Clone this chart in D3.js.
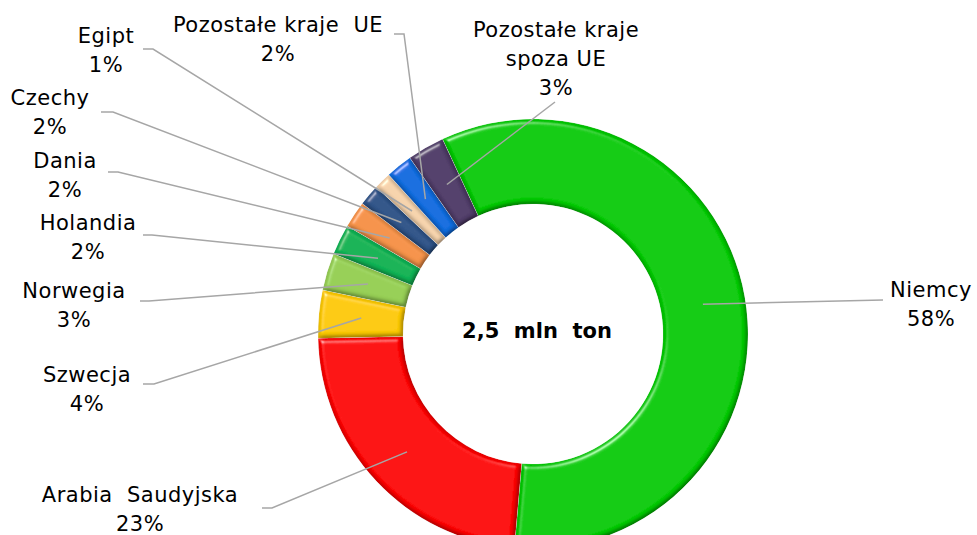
<!DOCTYPE html>
<html>
<head>
<meta charset="utf-8">
<script src="https://cdn.jsdelivr.net/npm/d3@7"></script>
<style>
  html, body { margin: 0; padding: 0; background: #fff; }
  svg text { font-family: "DejaVu Sans", Verdana, sans-serif; }
</style>
</head>
<body>
<div id="chart"></div>
<script>
// data
const countries = ["Niemcy", "Arabia  Saudyjska", "Szwecja", "Norwegia", "Holandia",
  "Dania", "Czechy", "Egipt", "Pozostałe kraje  UE", "Pozostałe kraje|spoza UE"];
const shares = [58.3, 23.3, 3.6, 2.8, 2.3, 2.0, 1.6, 1.3, 2.0, 2.8];
const colors = ["#00cd00", "#ff0000", "#ffcc00", "#98d156", "#0fb556",
  "#f7944a", "#30558a", "#f8d5ae", "#0f6ee2", "#523e6b"];
const totalLabel = "2,5 mln ton";

// label layout: text anchor (centre x, first baseline) and leader end points
const labelLayout = [
  { x: 931, y: 297, path: [[883, 300]] },
  { x: 140, y: 502, path: [[272, 508], [262, 508]] },
  { x: 87, y: 382, path: [[154, 384], [143, 384]] },
  { x: 74, y: 298, path: [[149, 301], [140, 301]] },
  { x: 88, y: 230, path: [[152, 235], [143, 235]] },
  { x: 65, y: 168, path: [[118, 172], [108, 172]] },
  { x: 50, y: 105, path: [[113, 112], [101, 112]] },
  { x: 106, y: 43, path: [[153, 49], [143, 49]] },
  { x: 278, y: 32, path: [[404, 34], [394, 34]] },
  { x: 556, y: 37, path: [[555, 102]] }
];

const width = 977, height = 535;
const cx = 533, cy = 334, outerR = 215, innerR = 130;
const lineH = 29;

const svg = d3.select("#chart").append("svg")
    .attr("width", width)
    .attr("height", height);

// soft bevel like the office chart
const defs = svg.append("defs");
const f = defs.append("filter").attr("id", "bevel")
    .attr("x", "-20%").attr("y", "-20%").attr("width", "140%").attr("height", "140%");
f.append("feGaussianBlur").attr("in", "SourceAlpha").attr("stdDeviation", 2.5).attr("result", "blur");
f.append("feSpecularLighting").attr("in", "blur").attr("surfaceScale", 4)
    .attr("specularConstant", 0.9).attr("specularExponent", 40)
    .attr("lighting-color", "#ffffff").attr("result", "spec")
  .append("feDistantLight").attr("azimuth", 235).attr("elevation", 40);
f.append("feComposite").attr("in", "spec").attr("in2", "SourceAlpha")
    .attr("operator", "in").attr("result", "specIn");
f.append("feDiffuseLighting").attr("in", "blur").attr("surfaceScale", 4)
    .attr("diffuseConstant", 1.04).attr("lighting-color", "#ffffff").attr("result", "diff")
  .append("feDistantLight").attr("azimuth", 235).attr("elevation", 70);
f.append("feComposite").attr("in", "SourceGraphic").attr("in2", "diff")
    .attr("operator", "arithmetic").attr("k1", 1).attr("k2", 0).attr("k3", 0).attr("k4", 0)
    .attr("result", "lit");
f.append("feComposite").attr("in", "lit").attr("in2", "specIn")
    .attr("operator", "arithmetic").attr("k1", 0).attr("k2", 1).attr("k3", 0.45).attr("k4", 0)
    .attr("result", "out");
f.append("feComposite").attr("in", "out").attr("in2", "SourceAlpha").attr("operator", "in");

const data = countries.map((c, i) => ({ name: c, value: shares[i], color: colors[i] }));

const start = -24.9 * Math.PI / 180;
const pie = d3.pie()
    .sort(null)
    .value(d => d.value)
    .startAngle(start)
    .endAngle(start + 2 * Math.PI);

const arc = d3.arc().innerRadius(innerR).outerRadius(outerR);
const midArc = d3.arc().innerRadius((innerR + outerR) / 2).outerRadius((innerR + outerR) / 2);

const arcs = pie(data);

const g = svg.append("g").attr("transform", `translate(${cx},${cy})`);

g.selectAll("path.slice")
  .data(arcs)
  .enter().append("path")
    .attr("class", "slice")
    .attr("d", arc)
    .attr("fill", d => d.data.color)
    .attr("filter", "url(#bevel)")
    .attr("stroke", "rgba(255,255,255,0.4)")
    .attr("stroke-width", 0.6);

// leader lines
const line = d3.line();
svg.append("g")
  .selectAll("path")
  .data(arcs)
  .enter().append("path")
    .attr("fill", "none")
    .attr("stroke", "#a6a6a6")
    .attr("stroke-width", 1.5)
    .attr("d", (d, i) => {
      const c = midArc.centroid(d);
      return line([[c[0] + cx, c[1] + cy]].concat(labelLayout[i].path));
    });

// labels
const labels = svg.append("g")
  .selectAll("text")
  .data(arcs)
  .enter().append("text")
    .attr("text-anchor", "middle")
    .attr("font-size", 21)
    .attr("letter-spacing", 0.5)
    .attr("fill", "#000")
    .style("white-space", "pre");

labels.each(function(d, i) {
  const lines = d.data.name.split("|").concat([Math.round(d.data.value) + "%"]);
  const t = d3.select(this);
  lines.forEach((s, j) => {
    t.append("tspan")
      .attr("x", labelLayout[i].x)
      .attr("y", labelLayout[i].y + j * lineH)
      .text(s);
  });
});

svg.append("text")
    .attr("x", cx + 4)
    .attr("y", 338)
    .attr("text-anchor", "middle")
    .attr("font-size", 21)
    .attr("font-weight", "bold")
    .style("white-space", "pre")
    .text(totalLabel.replace(/ /g, "  "));
</script>
</body>
</html>
